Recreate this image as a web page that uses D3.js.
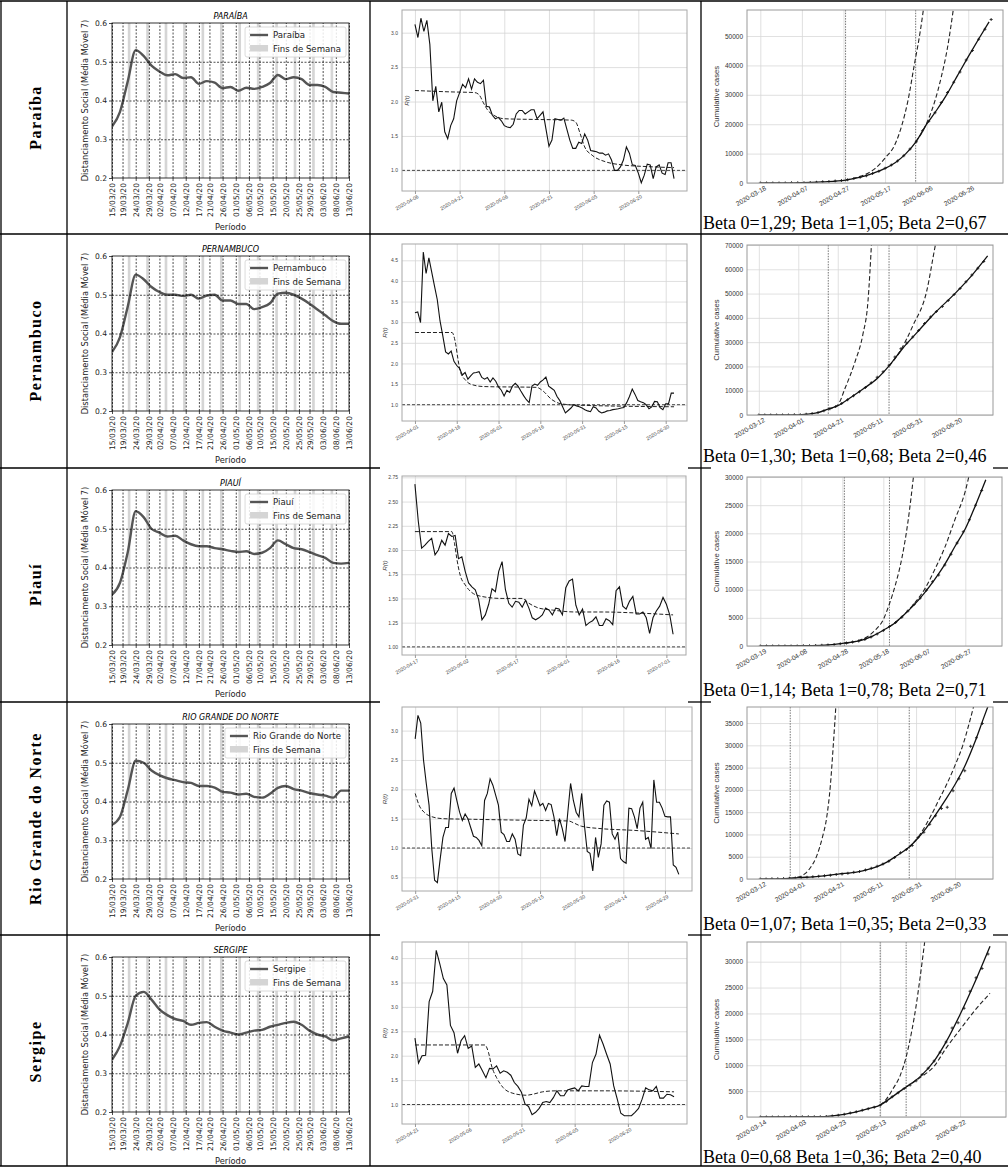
<!DOCTYPE html>
<html>
<head>
<meta charset="utf-8">
<script src="https://cdn.jsdelivr.net/npm/d3@7"></script>
<style>
  body { margin: 0; background: #fff; }
  svg { display: block; }
</style>
</head>
<body>
<svg width="1008" height="1167"></svg>
<script>
// ---------- data ----------
const states = ['Paraíba', 'Pernambuco', 'Piauí', 'Rio Grande do Norte', 'Sergipe'];
const stateTitles = ['PARAÍBA', 'PERNAMBUCO', 'PIAUÍ', 'RIO GRANDE DO NORTE', 'SERGIPE'];
const betaLabels = [
  'Beta 0=1,29; Beta 1=1,05; Beta 2=0,67',
  'Beta 0=1,30; Beta 1=0,68; Beta 2=0,46',
  'Beta 0=1,14; Beta 1=0,78; Beta 2=0,71',
  'Beta 0=1,07; Beta 1=0,35; Beta 2=0,33',
  'Beta 0=0,68 Beta 1=0,36; Beta 2=0,40'
];

// social distancing (7 day moving average), days after 15/03/20
const distTicks = ['15/03/20','19/03/20','24/03/20','29/03/20','02/04/20','07/04/20','12/04/20','17/04/20','21/04/20','26/04/20',
  '01/05/20','06/05/20','10/05/20','15/05/20','20/05/20','25/05/20','29/05/20','03/06/20','08/06/20','13/06/20'];
const distDays = [0,3,6,9,12,15,18,21,24,27,30,33,36,39,42,45,48,51,54,57,60,63,66,69,72,75,78,81,84,87,90];
const distPB = [0.333,0.37,0.45,0.53,0.515,0.49,0.475,0.465,0.468,0.458,0.46,0.443,0.45,0.446,0.432,0.435,0.425,0.433,0.43,0.435,0.445,0.466,0.455,0.46,0.455,0.44,0.44,0.435,0.422,0.42,0.418];
const distPE = [0.352,0.39,0.47,0.552,0.54,0.52,0.507,0.5,0.5,0.497,0.5,0.49,0.498,0.5,0.485,0.485,0.476,0.476,0.463,0.468,0.478,0.503,0.505,0.5,0.49,0.477,0.462,0.447,0.432,0.425,0.425];
const distPI = [0.33,0.36,0.44,0.545,0.53,0.5,0.49,0.48,0.482,0.47,0.46,0.455,0.455,0.45,0.447,0.443,0.44,0.442,0.435,0.438,0.45,0.47,0.46,0.45,0.447,0.44,0.432,0.425,0.412,0.41,0.412];
const distRN = [0.34,0.36,0.43,0.505,0.5,0.48,0.468,0.46,0.455,0.45,0.448,0.44,0.44,0.436,0.425,0.423,0.418,0.42,0.412,0.41,0.42,0.435,0.44,0.432,0.428,0.422,0.418,0.415,0.41,0.428,0.428];
const distSE = [0.335,0.37,0.43,0.5,0.51,0.49,0.465,0.45,0.44,0.435,0.425,0.43,0.432,0.42,0.41,0.405,0.4,0.405,0.41,0.412,0.42,0.425,0.43,0.433,0.425,0.41,0.4,0.395,0.385,0.39,0.395];
const distSeries = [distPB, distPE, distPI, distRN, distSE];

// R(t), daily values from the start date
const rtStart = ['2020-04-06', '2020-04-01', '2020-04-17', '2020-03-31', '2020-04-21'];
const rtTickStep = [0.5, 0.5, 0.25, 0.5, 0.5];
const rtPB = [3.12,2.93,3.21,3.02,3.18,2.83,2.01,2.22,1.85,1.99,1.56,1.46,1.65,1.75,2.01,2.13,2.25,2.20,2.33,2.18,
  2.33,2.28,2.26,2.31,1.93,1.92,1.80,1.75,1.77,1.72,1.65,1.63,1.62,1.67,1.82,1.87,1.87,1.82,1.85,1.88,
  1.88,1.75,1.80,1.85,1.60,1.35,1.44,1.75,1.74,1.73,1.76,1.60,1.44,1.32,1.32,1.41,1.39,1.53,1.44,1.29,
  1.28,1.27,1.25,1.25,1.22,1.24,1.15,1.00,1.00,1.05,1.15,1.34,1.25,1.08,1.07,0.96,0.82,0.93,1.09,1.08,
  0.88,1.05,1.08,0.96,0.94,1.11,1.11,0.88];
const rtPE = [3.23,3.25,2.99,4.70,4.18,4.56,4.22,3.88,3.55,3.03,2.67,2.28,2.23,2.30,2.05,1.95,1.88,1.72,1.78,1.62,
  1.70,1.77,1.78,1.80,1.66,1.62,1.66,1.55,1.65,1.57,1.43,1.35,1.21,1.35,1.30,1.45,1.52,1.45,1.33,1.22,
  1.12,1.05,1.45,1.50,1.47,1.55,1.60,1.67,1.45,1.40,1.35,1.20,1.10,0.95,0.80,0.86,0.92,1.00,0.97,0.95,
  0.92,0.88,0.85,0.83,0.95,0.92,0.84,0.80,0.82,0.85,0.86,0.88,0.89,0.90,0.92,0.93,1.05,1.20,1.38,1.25,
  1.10,1.07,1.05,1.00,0.90,0.95,1.08,1.07,0.93,0.88,1.02,1.02,1.28,1.28];
const rtPI = [2.68,2.30,2.02,2.05,2.09,2.12,1.95,2.00,2.10,2.05,2.17,2.14,2.15,1.91,1.93,1.78,1.66,1.62,1.59,1.49,
  1.28,1.33,1.44,1.60,1.57,1.78,1.88,1.59,1.45,1.41,1.47,1.46,1.41,1.48,1.40,1.30,1.28,1.30,1.33,1.40,
  1.38,1.33,1.40,1.39,1.33,1.61,1.68,1.70,1.43,1.33,1.39,1.22,1.25,1.27,1.31,1.22,1.22,1.29,1.27,1.23,
  1.58,1.62,1.42,1.39,1.47,1.52,1.34,1.34,1.36,1.30,1.14,1.30,1.37,1.42,1.51,1.44,1.33,1.13];
const rtRN = [2.86,3.26,3.13,2.50,2.10,1.73,0.98,0.45,0.41,0.81,1.18,1.35,1.35,1.93,2.02,1.81,1.61,1.47,1.58,1.50,
  1.35,1.20,1.18,1.13,1.04,1.81,1.93,2.18,2.07,1.90,1.73,1.27,1.23,1.11,1.11,1.24,1.15,0.90,0.87,1.39,
  1.51,1.83,1.72,1.97,1.85,1.72,1.76,1.64,1.76,1.74,1.53,1.21,1.50,1.33,1.11,1.61,2.10,1.81,1.61,1.53,
  1.93,1.38,0.94,0.91,0.61,1.18,0.84,1.07,1.73,1.80,1.78,1.24,1.15,1.27,0.82,0.77,0.74,1.68,1.67,1.53,
  1.33,1.68,1.78,1.15,1.18,0.99,2.16,1.78,1.78,1.68,1.54,1.53,1.53,0.71,0.67,0.55];
const rtSE = [2.36,1.85,2.00,2.01,3.11,3.32,4.16,3.88,3.58,3.45,2.62,2.47,2.05,2.31,2.41,2.15,2.20,1.76,1.83,1.69,
  1.55,1.74,1.73,1.79,1.64,1.69,1.66,1.60,1.45,1.37,1.25,1.01,0.96,0.79,0.84,0.92,1.04,1.06,1.04,1.14,
  1.28,1.18,1.18,1.30,1.32,1.34,1.28,1.38,1.37,1.37,1.86,2.03,2.42,2.24,2.03,1.83,1.38,1.11,0.82,0.77,
  0.77,0.77,0.84,0.92,1.11,1.34,1.30,1.28,1.37,1.13,1.13,1.21,1.20,1.16];
const rtSeries = [rtPB, rtPE, rtPI, rtRN, rtSE];

// fitted R(t) as [day, value]
const rtFitPB = [[0,2.16],[12,2.14],[20,2.13],[21.5,2.10],[23,1.98],[24.5,1.87],[26.5,1.8],[30,1.75],[40,1.74],[52.5,1.73],[54,1.70],[55.5,1.53],[57,1.34],[59.5,1.22],[64,1.125],[69.5,1.08],[78,1.055],[87,1.04]];
const rtFitPE = [[0,2.75],[13.3,2.75],[14.5,2.51],[15.4,2.12],[16.3,1.8],[18.1,1.6],[19.9,1.5],[24.6,1.44],[43.7,1.42],[46,1.33],[49,1.13],[52.6,1.02],[58,0.99],[93,0.95]];
const rtFitPI = [[0,2.19],[11,2.19],[11.8,2.07],[12.5,1.91],[13.5,1.74],[15,1.64],[17,1.56],[20,1.52],[26,1.5],[32,1.5],[34,1.45],[37,1.4],[41,1.38],[48,1.36],[56,1.36],[66,1.35],[77,1.33]];
const rtFitRN = [[0,1.93],[1.4,1.73],[3.2,1.61],[5.6,1.54],[10,1.5],[20,1.49],[43.5,1.47],[55.4,1.46],[57,1.43],[60,1.37],[67,1.33],[79,1.3],[95,1.24]];
const rtFitSE = [[0,2.22],[19.7,2.22],[20.7,2.07],[21.6,1.79],[23,1.55],[24.8,1.35],[27.6,1.23],[31.3,1.19],[33.2,1.21],[36,1.26],[39.7,1.28],[52.7,1.28],[73,1.26]];
const rtFits = [rtFitPB, rtFitPE, rtFitPI, rtFitRN, rtFitSE];

// cumulative cases: observed every 3 days from start, model fit and the two projections
const caseStart = ['2020-03-18', '2020-03-12', '2020-03-19', '2020-03-12', '2020-03-14'];
const caseXLim = [[-6.4,116.7],[-6,118.7],[-6.5,117.9],[-6.8,119.5],[-6.7,123]];
const caseYMax = [58850, 70000, 30000, 38600, 33800];
const caseYStep = [10000, 10000, 5000, 5000, 5000];
const caseBreaks = [[41, 74.7], [35.2, 66], [41, 63], [15.4, 76.5], [60, 73]];

const caseObsPB = [0,0,2,10,30,50,80,110,170,260,400,550,700,880,1100,1500,1950,2500,3200,4000,5000,6100,7500,9300,11600,14000,17800,21000,23900,27400,30800,34300,37800,41800,45100,48900,52300,55600];
const caseObsPE = [0,2,10,18,25,35,70,150,330,600,1000,1700,2600,3500,4700,6300,7900,9600,11300,13300,15500,17800,20500,23900,27300,29600,32100,34800,37700,40400,42600,44700,47100,49600,52100,54900,57600,60400,63200];
const caseObsPI = [0,1,3,6,10,15,20,30,45,80,130,190,280,400,540,700,880,1150,1600,2150,2750,3450,4150,5100,6200,7350,8500,9900,11400,12600,14400,16300,18300,20300,22400,25000,27600];
const caseObsRN = [0,10,30,60,100,150,240,320,400,490,600,720,850,1000,1150,1300,1500,1700,2000,2400,2850,3350,4000,4800,5900,6600,7500,9300,10500,12300,14200,15800,16100,19800,22500,24300,29800,31700,34900];
const caseObsSE = [0,5,10,15,20,25,30,35,40,45,60,100,180,330,520,750,1000,1300,1600,1900,2250,3000,3900,4700,5500,6200,7000,8200,9400,10800,12500,14500,17200,18200,21000,24300,26900,28700,31500];
const caseObs = [caseObsPB, caseObsPE, caseObsPI, caseObsRN, caseObsSE];

const caseFitPB = [[0,0],[10,20],[20,100],[30,400],[41,1000],[50,2300],[55,3500],[60,5000],[65,7000],[70,10000],[75,14200],[80,20000],[85,25000],[90,30500],[95,36800],[100,43000],[105,49000],[110,54800]];
const caseFitPE = [[0,0],[15,30],[25,400],[30,1000],[35,2400],[40,3800],[46,6900],[53,10800],[60,15000],[66,20200],[73,27500],[80,33800],[88,41000],[100,50500],[108,57500],[116,65500]];
const caseFitPI = [[0,0],[25,50],[35,250],[41,500],[50,1100],[55,1800],[60,2800],[65,3900],[70,5500],[75,7300],[80,9400],[85,11800],[90,14500],[95,17700],[100,20800],[105,25000],[110,29500]];
const caseFitRN = [[0,0],[15,150],[20,300],[30,600],[40,1100],[50,1600],[55,2100],[60,2800],[65,3800],[70,5200],[76,7000],[80,8700],[85,11300],[90,14400],[95,17700],[100,21200],[105,25300],[110,30500],[115,36500],[118,40000]];
const caseFitSE = [[0,0],[30,50],[40,400],[50,1200],[55,1700],[60,2300],[65,3600],[70,5000],[73,5800],[80,7800],[87,10800],[93,14500],[100,19800],[107,25700],[115,33000]];
const caseFits = [caseFitPB, caseFitPE, caseFitPI, caseFitRN, caseFitSE];

const caseB1PB = [[41,1000],[50,2800],[55,4800],[60,8500],[65,13500],[68,19500],[71,28000],[74,40000],[77,52000],[79,62000]];
const caseB1PE = [[35.2,2400],[40,4100],[43.7,11000],[48.8,22000],[52.7,33000],[55.3,46600],[57.2,72000]];
const caseB1PI = [[41,500],[48,1000],[52,1600],[56,2800],[60,4700],[63,7500],[66,11000],[69,15500],[72,22000],[75,31000]];
const caseB1RN = [[15.4,150],[20,500],[23,1200],[26,2700],[29,5200],[32,9500],[34,13500],[36,21000],[37.5,30000],[39,40000]];
const caseB1SE = [[60,2300],[63,3400],[66,5200],[70,8000],[73,11600],[76,17000],[78,21500],[80,27000],[82.5,34500]];
const caseB1 = [caseB1PB, caseB1PE, caseB1PI, caseB1RN, caseB1SE];

const caseB2PB = [[74.7,14000],[78,17500],[81,22000],[84,28000],[87,36000],[90,46000],[93,60000]];
const caseB2PE = [[66,20200],[71.4,26000],[78.2,37000],[85,50700],[89.5,70000],[90,72000]];
const caseB2PI = [[63,3400],[70,5500],[75,7500],[80,10000],[85,13500],[90,17500],[95,22500],[100,27500],[102,30500]];
const caseB2RN = [[76.5,7100],[82,10000],[88,14500],[92,18000],[96,21500],[100,25500],[104,30000],[107,34500],[110,39500]];
const caseB2SE = [[73,5800],[80,7600],[87,9800],[93,13300],[100,16900],[107,20400],[115,23900]];
const caseB2 = [caseB2PB, caseB2PE, caseB2PI, caseB2RN, caseB2SE];

// ---------- layout ----------
const svg = d3.select('svg');
const rowTops = [1, 234, 468, 702, 935];
const rowH = 233;
const rtRight = [687, 687, 686, 692, 687];
const rtTopOff = [9, 10, 8, 5, 7];
const rtBotOff = [190, 187, 187, 189, 189];
const rtLabelX = [409, 387, 387, 387, 387];
const caseRight = [1003, 993, 1002, 993, 1006];
const caseTopOff = [9, 11, 9, 5, 7];
const caseBotOff = [182, 181, 178, 177, 182];

const SANS = '"DejaVu Sans", sans-serif';
const ARIAL = '"Liberation Sans", Arial, sans-serif';
const SERIF = '"Liberation Serif", "Times New Roman", serif';

const parseIso = d3.timeParse('%Y-%m-%d');
const parseBr = d3.timeParse('%d/%m/%y');
const at = (start, days) => new Date(start.getTime() + days * 864e5);

// ---------- table ----------
const grid = svg.append('g').attr('stroke', '#000').attr('stroke-width', 1.3);
[1, 67, 370, 701].forEach(xv => {
  grid.append('line').attr('x1', xv).attr('x2', xv).attr('y1', 1).attr('y2', 1166);
});
[1, 234, 1166].forEach(yv => {
  grid.append('line').attr('x1', 0).attr('x2', 1008).attr('y1', yv).attr('y2', yv);
});
[468, 702, 935].forEach(yv => {
  [[0, 380], [688, 711], [993, 1008]].forEach(s => {
    grid.append('line').attr('x1', s[0]).attr('x2', s[1]).attr('y1', yv).attr('y2', yv);
  });
});

states.forEach((name, i) => {
  svg.append('text')
    .attr('transform', `translate(35, ${rowTops[i] + rowH / 2}) rotate(-90)`)
    .attr('text-anchor', 'middle')
    .attr('dy', '0.35em')
    .style('font-family', SERIF)
    .style('font-weight', 'bold')
    .style('font-size', '16px')
    .style('letter-spacing', '1.5px')
    .text(name);
});

// ---------- column 2: social distancing ----------
const distStart = parseBr(distTicks[0]);
const distEnd = parseBr(distTicks[distTicks.length - 1]);
const distTickDates = distTicks.map(parseBr);

function drawDist(i) {
  const top = rowTops[i];
  const x0 = 112, x1 = 349, y0 = top + 22, y1 = top + 177;
  const x = d3.scaleTime().domain([distStart, distEnd]).range([x0, x1]);
  const y = d3.scaleLinear().domain([0.2, 0.6]).range([y1, y0]);
  const g = svg.append('g');

  g.append('clipPath').attr('id', 'cd' + i).append('rect')
    .attr('x', x0).attr('y', y0).attr('width', x1 - x0).attr('height', y1 - y0);
  const plot = g.append('g').attr('clip-path', `url(#cd${i})`);

  const sats = d3.timeSaturday.range(at(distStart, -7), at(distEnd, 2));
  plot.selectAll('rect.wk').data(sats).join('rect')
    .attr('class', 'wk')
    .attr('x', d => x(d))
    .attr('width', d => x(at(d, 1)) - x(d))
    .attr('y', y0).attr('height', y1 - y0)
    .attr('fill', '#d5d5d5');

  const gx = g.append('g').attr('transform', `translate(0, ${y1})`)
    .call(d3.axisBottom(x).tickValues(distTickDates).tickSize(-(y1 - y0)).tickFormat(''));
  gx.select('.domain').remove();
  gx.selectAll('line').attr('stroke', '#000').attr('stroke-width', 0.7).attr('stroke-dasharray', '2,1.5');
  const gy = g.append('g').attr('transform', `translate(${x0}, 0)`)
    .call(d3.axisLeft(y).tickValues([0.3, 0.4, 0.5]).tickSize(-(x1 - x0)).tickFormat(''));
  gy.select('.domain').remove();
  gy.selectAll('line').attr('stroke', '#000').attr('stroke-width', 0.7).attr('stroke-dasharray', '2,1.5');

  const line = d3.line()
    .x(d => x(at(distStart, d[0])))
    .y(d => y(d[1]))
    .curve(d3.curveMonotoneX);
  plot.append('path')
    .datum(distDays.map((d, k) => [d, distSeries[i][k]]))
    .attr('d', line)
    .attr('fill', 'none')
    .attr('stroke', '#555')
    .attr('stroke-width', 2.4);

  g.append('rect').attr('x', x0).attr('y', y0).attr('width', x1 - x0).attr('height', y1 - y0)
    .attr('fill', 'none').attr('stroke', '#000').attr('stroke-width', 0.8);

  // ticks and labels
  const ax = g.append('g').attr('transform', `translate(0, ${y1})`)
    .call(d3.axisBottom(x).tickValues(distTickDates).tickSize(3).tickFormat((d, k) => distTicks[k]));
  ax.select('.domain').remove();
  ax.selectAll('line').attr('stroke', '#000').attr('stroke-width', 0.7);
  ax.selectAll('text')
    .attr('transform', 'rotate(-90)')
    .attr('x', -5).attr('y', 0).attr('dy', '0.35em')
    .attr('text-anchor', 'end')
    .style('font-family', SANS).style('font-size', '7.6px').attr('fill', '#222');

  const ay = g.append('g').attr('transform', `translate(${x0}, 0)`)
    .call(d3.axisLeft(y).tickValues([0.2, 0.3, 0.4, 0.5, 0.6]).tickSize(3).tickFormat(d3.format('.1f')));
  ay.select('.domain').remove();
  ay.selectAll('line').attr('stroke', '#000').attr('stroke-width', 0.7);
  ay.selectAll('text').attr('x', -5).style('font-family', SANS).style('font-size', '7.6px').attr('fill', '#222');

  g.append('text')
    .attr('x', (x0 + x1) / 2).attr('y', y0 - 4)
    .attr('text-anchor', 'middle')
    .style('font-family', SANS).style('font-size', '8px').style('font-style', 'italic')
    .text(stateTitles[i]);

  g.append('text')
    .attr('transform', `translate(88, ${(y0 + y1) / 2}) rotate(-90)`)
    .attr('text-anchor', 'middle')
    .style('font-family', SANS).style('font-size', '8.3px').attr('fill', '#222')
    .text('Distanciamento Social (Média Móvel 7)');

  g.append('text')
    .attr('x', (x0 + x1) / 2).attr('y', y1 + 52)
    .attr('text-anchor', 'middle')
    .style('font-family', SANS).style('font-size', '8.3px').attr('fill', '#222')
    .text('Período');

  // legend
  const lg = g.append('g');
  const box = lg.append('rect');
  const t1 = lg.append('text').text(states[i]);
  const t2 = lg.append('text').text('Fins de Semana');
  lg.selectAll('text').style('font-family', SANS).style('font-size', '8.6px').attr('fill', '#222');
  const tw = Math.max(t1.node().getComputedTextLength(), t2.node().getComputedTextLength());
  const bw = tw + 33;
  const bx = x1 - 3 - bw, by = y0 + 4;
  box.attr('x', bx).attr('y', by).attr('width', bw).attr('height', 30).attr('rx', 2)
    .attr('fill', '#fff').attr('fill-opacity', 0.85).attr('stroke', '#d0d0d0').attr('stroke-width', 0.8);
  lg.append('line').attr('x1', bx + 5).attr('x2', bx + 23).attr('y1', by + 8).attr('y2', by + 8)
    .attr('stroke', '#555').attr('stroke-width', 2.4);
  lg.append('rect').attr('x', bx + 5).attr('y', by + 18).attr('width', 18).attr('height', 6.5).attr('fill', '#d5d5d5');
  t1.attr('x', bx + 28).attr('y', by + 11);
  t2.attr('x', bx + 28).attr('y', by + 24.5);
}

// ---------- column 3: R(t) ----------
function drawRt(i) {
  const top = rowTops[i];
  const x0 = 402, x1 = rtRight[i], y0 = top + rtTopOff[i], y1 = top + rtBotOff[i];
  const start = parseIso(rtStart[i]);
  const vals = rtSeries[i];
  const n = vals.length - 1;
  const x = d3.scaleTime().domain([at(start, -0.05 * n), at(start, 1.05 * n)]).range([x0, x1]);
  const lo = Math.min(1, d3.min(vals)), hi = d3.max(vals), pad = (hi - lo) * 0.05;
  const y = d3.scaleLinear().domain([lo - pad, hi + pad]).range([y1, y0]);
  const step = rtTickStep[i];
  const yt = d3.range(Math.ceil((lo - pad) / step) * step, hi + pad, step);
  const xt = d3.range(0, n + 1, 15).map(d => at(start, d));
  const g = svg.append('g');

  const gx = g.append('g').attr('transform', `translate(0, ${y1})`)
    .call(d3.axisBottom(x).tickValues(xt).tickSize(-(y1 - y0)).tickFormat(''));
  gx.select('.domain').remove();
  gx.selectAll('line').attr('stroke', '#d6d6d6').attr('stroke-width', 0.8);
  const gy = g.append('g').attr('transform', `translate(${x0}, 0)`)
    .call(d3.axisLeft(y).tickValues(yt).tickSize(-(x1 - x0)).tickFormat(''));
  gy.select('.domain').remove();
  gy.selectAll('line').attr('stroke', '#d6d6d6').attr('stroke-width', 0.8);

  g.append('clipPath').attr('id', 'cr' + i).append('rect')
    .attr('x', x0).attr('y', y0).attr('width', x1 - x0).attr('height', y1 - y0);
  const plot = g.append('g').attr('clip-path', `url(#cr${i})`);

  plot.append('line')
    .attr('x1', x0).attr('x2', x1).attr('y1', y(1)).attr('y2', y(1))
    .attr('stroke', '#333').attr('stroke-width', 0.9).attr('stroke-dasharray', '3,2');

  plot.append('path')
    .datum(rtFits[i])
    .attr('d', d3.line().x(d => x(at(start, d[0]))).y(d => y(d[1])).curve(d3.curveMonotoneX))
    .attr('fill', 'none').attr('stroke', '#222').attr('stroke-width', 1).attr('stroke-dasharray', '4,2');

  plot.append('path')
    .datum(vals)
    .attr('d', d3.line().x((d, k) => x(at(start, k))).y(d => y(d)))
    .attr('fill', 'none').attr('stroke', '#111').attr('stroke-width', 1.1);

  g.append('rect').attr('x', x0).attr('y', y0).attr('width', x1 - x0).attr('height', y1 - y0)
    .attr('fill', 'none').attr('stroke', '#a8a8a8').attr('stroke-width', 1);

  const ax = g.append('g').attr('transform', `translate(0, ${y1})`)
    .call(d3.axisBottom(x).tickValues(xt).tickSize(3).tickFormat(d3.timeFormat('%Y-%m-%d')));
  ax.select('.domain').remove();
  ax.selectAll('line').attr('stroke', '#999');
  ax.selectAll('text')
    .attr('x', 0).attr('y', 0).attr('dy', '0.6em')
    .attr('text-anchor', 'end')
    .attr('transform', 'translate(2, 4) rotate(-30)')
    .style('font-family', ARIAL).style('font-size', '5px').attr('fill', '#444');

  const ay = g.append('g').attr('transform', `translate(${x0}, 0)`)
    .call(d3.axisLeft(y).tickValues(yt).tickSize(0).tickFormat(d3.format(step < 0.5 ? '.2f' : '.1f')));
  ay.select('.domain').remove();
  ay.selectAll('text').attr('x', -4).style('font-family', ARIAL).style('font-size', '5px').attr('fill', '#444');

  g.append('text')
    .attr('transform', `translate(${rtLabelX[i]}, ${(y0 + y1) / 2}) rotate(-90)`)
    .attr('text-anchor', 'middle')
    .style('font-family', ARIAL).style('font-size', '6.2px').style('font-style', 'italic').attr('fill', '#333')
    .text('R(t)');
}

// ---------- column 4: cumulative cases ----------
function drawCases(i) {
  const top = rowTops[i];
  const x0 = 747, x1 = caseRight[i], y0 = top + caseTopOff[i], y1 = top + caseBotOff[i];
  const start = parseIso(caseStart[i]);
  const x = d3.scaleTime().domain(caseXLim[i].map(d => at(start, d))).range([x0, x1]);
  const y = d3.scaleLinear().domain([0, caseYMax[i]]).range([y1, y0]);
  const yt = d3.range(0, caseYMax[i] + 1, caseYStep[i]);
  const xt = d3.range(0, 6).map(k => at(start, k * 20));
  const g = svg.append('g');

  const gx = g.append('g').attr('transform', `translate(0, ${y1})`)
    .call(d3.axisBottom(x).tickValues(xt).tickSize(-(y1 - y0)).tickFormat(''));
  gx.select('.domain').remove();
  gx.selectAll('line').attr('stroke', '#d8d8d8').attr('stroke-width', 0.8);
  const gy = g.append('g').attr('transform', `translate(${x0}, 0)`)
    .call(d3.axisLeft(y).tickValues(yt).tickSize(-(x1 - x0)).tickFormat(''));
  gy.select('.domain').remove();
  gy.selectAll('line').attr('stroke', '#d8d8d8').attr('stroke-width', 0.8);

  g.append('clipPath').attr('id', 'cc' + i).append('rect')
    .attr('x', x0).attr('y', y0).attr('width', x1 - x0).attr('height', y1 - y0);
  const plot = g.append('g').attr('clip-path', `url(#cc${i})`);

  plot.selectAll('line.brk').data(caseBreaks[i]).join('line')
    .attr('class', 'brk')
    .attr('x1', d => x(at(start, d))).attr('x2', d => x(at(start, d)))
    .attr('y1', y0).attr('y2', y1)
    .attr('stroke', '#666').attr('stroke-width', 0.9).attr('stroke-dasharray', '1.5,1.2');

  const curve = d3.line().x(d => x(at(start, d[0]))).y(d => y(d[1])).curve(d3.curveMonotoneX);
  [caseB1[i], caseB2[i]].forEach(s => {
    plot.append('path').datum(s).attr('d', curve)
      .attr('fill', 'none').attr('stroke', '#222').attr('stroke-width', 1.1).attr('stroke-dasharray', '4.5,2.5');
  });

  plot.selectAll('path.obs').data(caseObs[i]).join('path')
    .attr('class', 'obs')
    .attr('transform', (d, k) => `translate(${x(at(start, k * 3))}, ${y(d)})`)
    .attr('d', d3.symbol().type(d3.symbolCross).size(5))
    .attr('fill', '#333');

  plot.append('path').datum(caseFits[i]).attr('d', curve)
    .attr('fill', 'none').attr('stroke', '#111').attr('stroke-width', 1.3);

  g.append('rect').attr('x', x0).attr('y', y0).attr('width', x1 - x0).attr('height', y1 - y0)
    .attr('fill', 'none').attr('stroke', '#999').attr('stroke-width', 1);

  const ax = g.append('g').attr('transform', `translate(0, ${y1})`)
    .call(d3.axisBottom(x).tickValues(xt).tickSize(0).tickFormat(d3.timeFormat('%Y-%m-%d')));
  ax.select('.domain').remove();
  ax.selectAll('text')
    .attr('x', 0).attr('y', 0).attr('dy', '0.6em')
    .attr('text-anchor', 'end')
    .attr('transform', 'translate(4, 3) rotate(-30)')
    .style('font-family', ARIAL).style('font-size', '6.6px').attr('fill', '#333');

  const ay = g.append('g').attr('transform', `translate(${x0}, 0)`)
    .call(d3.axisLeft(y).tickValues(yt).tickSize(0).tickFormat(d3.format('d')));
  ay.select('.domain').remove();
  ay.selectAll('text').attr('x', -4).style('font-family', ARIAL).style('font-size', '6.5px').attr('fill', '#333');

  g.append('text')
    .attr('transform', `translate(719, ${(y0 + y1) / 2}) rotate(-90)`)
    .attr('text-anchor', 'middle')
    .style('font-family', ARIAL).style('font-size', '7.8px').attr('fill', '#333')
    .text('Cumulative cases');

  g.append('text')
    .attr('x', 703).attr('y', top + 228)
    .style('font-family', SERIF).style('font-size', '18px').attr('fill', '#000')
    .text(betaLabels[i]);
}

states.forEach((s, i) => {
  drawDist(i);
  drawRt(i);
  drawCases(i);
});
</script>
</body>
</html>
